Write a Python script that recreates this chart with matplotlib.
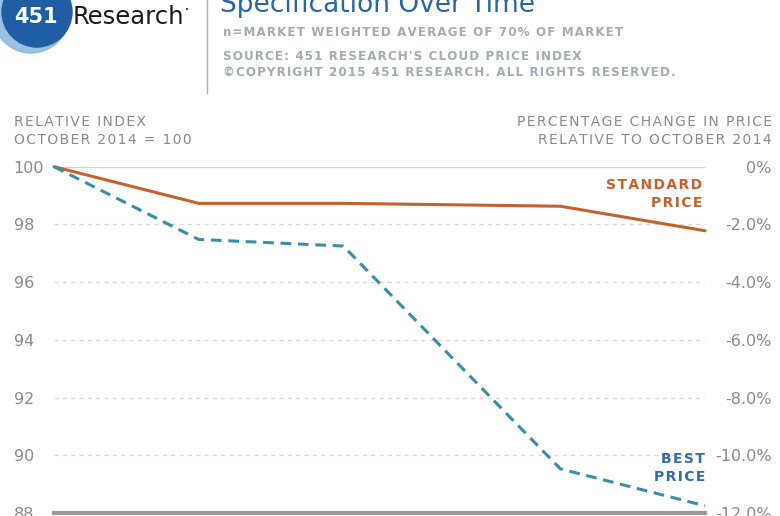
import matplotlib.pyplot as plt
from matplotlib.patches import Circle

# month index since October 2014 (10 tick positions on the x axis)
months = list(range(10))
std_x = [0, 2, 4, 7, 9]
std_idx = [100, 98.73, 98.73, 98.63, 97.78]
best_x = [0, 2, 4, 7, 9]
best_idx = [100, 97.48, 97.25, 89.53, 88.25]

left_ticks = [100, 98, 96, 94, 92, 90, 88]
right_ticks = [0, -2, -4, -6, -8, -10, -12]
right_labels = ["0%", "-2.0%", "-4.0%", "-6.0%", "-8.0%", "-10.0%", "-12.0%"]

W, H = 780, 516
fig = plt.figure(figsize=(W / 100, H / 100), dpi=100)
plt.rcParams['font.family'] = ['DejaVu Sans']

GRAY = "#8a8a8a"
ORANGE = "#c4622d"
TEAL = "#3b8ea6"
BLUE_TXT = "#2f6ea6"


def spaced(s):
    # fake letter spacing with hair spaces
    return "\u200a".join(s)


# axes box in pixels: x 54..705, y 166.7..513
ax = fig.add_axes([54 / W, (H - 513) / H, (705 - 54) / W, (513 - 166.7) / H])
ax.set_xlim(0, 9)
ax.set_ylim(88, 100)
for s in ["top", "left", "right"]:
    ax.spines[s].set_visible(False)
ax.spines["bottom"].set_color("#9a9a9a")
ax.spines["bottom"].set_linewidth(3)
ax.set_xticks(months)
ax.set_xticklabels([])
ax.tick_params(axis="x", length=0)

# gridlines
ax.axhline(100, color="#d0d0d0", lw=1, zorder=0)
for v in [98, 96, 94, 92, 90]:
    ax.axhline(v, color="#d8d8d8", lw=1, ls=(0, (3, 3)), zorder=0)

ax.set_yticks(left_ticks)
ax.set_yticklabels([str(t) for t in left_ticks])
ax.tick_params(axis="y", length=0, pad=29, labelsize=11.5, labelcolor=GRAY)
for lbl in ax.get_yticklabels():
    lbl.set_ha("left")

ax2 = ax.twinx()
ax2.set_ylim(-12, 0)
for s in ax2.spines.values():
    s.set_visible(False)
ax2.set_yticks(right_ticks)
ax2.set_yticklabels(right_labels)
ax2.tick_params(axis="y", length=0, pad=48, labelsize=11.5, labelcolor=GRAY)
for lbl in ax2.get_yticklabels():
    lbl.set_ha("right")

ax.plot(std_x, std_idx, color=ORANGE, lw=2.2, solid_capstyle="round", clip_on=False, zorder=3)
ax.plot(best_x, best_idx, color=TEAL, lw=2.2, ls=(0, (3.5, 2.2)), clip_on=False, zorder=3)

# series labels
ax.text(8.96, 99.05, spaced("STANDARD") + "\n" + spaced("PRICE"), color=ORANGE,
        fontsize=10, ha="right", va="center", linespacing=1.4, fontweight="bold")
ax.text(9.0, 89.55, spaced("BEST") + "\n" + spaced("PRICE"), color=BLUE_TXT,
        fontsize=10, ha="right", va="center", linespacing=1.4, fontweight="bold")

# axis headers
hdr = dict(color=GRAY, fontsize=10, va="center")
fig.text(14 / W, 1 - 122 / H, spaced("RELATIVE INDEX"), ha="left", **hdr)
fig.text(14 / W, 1 - 140 / H, spaced("OCTOBER 2014 = 100"), ha="left", **hdr)
fig.text(772 / W, 1 - 122 / H, spaced("PERCENTAGE CHANGE IN PRICE"), ha="right", **hdr)
fig.text(772 / W, 1 - 140 / H, spaced("RELATIVE TO OCTOBER 2014"), ha="right", **hdr)

# title block
fig.text(220 / W, 1 - 12 / H, "Specification Over Time", color="#2a66a3",
         fontsize=19, ha="left", va="baseline")
sub = dict(color="#a3abb3", fontsize=8.6, ha="left", va="center", fontweight="bold")
fig.text(223 / W, 1 - 33 / H, spaced("n=MARKET WEIGHTED AVERAGE OF 70% OF MARKET"), **sub)
fig.text(223 / W, 1 - 56 / H, spaced("SOURCE: 451 RESEARCH'S CLOUD PRICE INDEX"), **sub)
fig.text(223 / W, 1 - 73 / H, spaced("©COPYRIGHT 2015 451 RESEARCH. ALL RIGHTS RESERVED."), **sub)
fig.add_artist(plt.Line2D([207 / W, 207 / W], [1 - 93 / H, 1], transform=fig.transFigure,
                          color="#b0b0b0", lw=1))

# logo
logo = fig.add_axes([0, 0, 1, 1], zorder=-1)
logo.set_xlim(0, W)
logo.set_ylim(H, 0)
logo.set_aspect("equal")
logo.axis("off")
logo.add_patch(Circle((31, 15), 38, color="#7fb2de", alpha=0.8))
logo.add_patch(Circle((37, 12), 35, color="#1f5ea5"))
logo.text(36, 17, "451", color="white", fontsize=15, fontweight="bold",
          ha="center", va="center")
logo.text(73, 17, "Research", color="#1a1a1a", fontsize=17.5, ha="left", va="center")
logo.text(185, 10, "•", color="#1a1a1a", fontsize=5, ha="left", va="center")

fig.savefig("out.png", dpi=100)
